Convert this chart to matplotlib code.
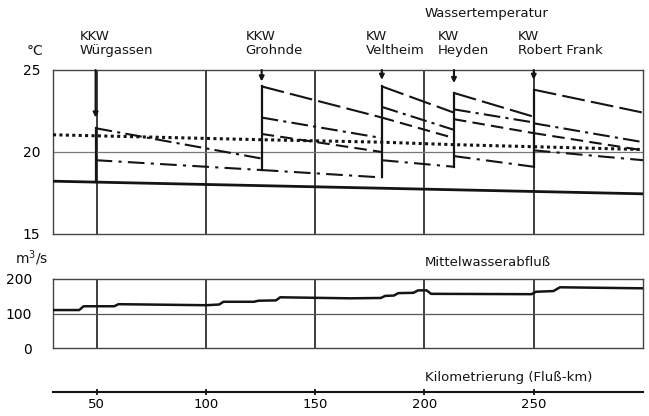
import matplotlib
matplotlib.use('Agg')
import matplotlib.pyplot as plt

W, H = 649, 416

# river km of the power plants (Weser)
plant_km = [49.5, 125.5, 180.5, 213.5, 250.0]
plant_names = ['KKW\nWürgassen', 'KKW\nGrohnde', 'KW\nVeltheim', 'KW\nHeyden', 'KW\nRobert Frank']
arrow_tip = [22.1, 24.3, 24.4, 24.2, 24.4]
km_end = 300.0

# heated water temperature downstream of each plant (start / end of each reach)
line_a_start = [None, 24.0, 24.0, 23.6, 23.8]
line_a_end = [None, 22.1, 22.4, 22.15, 22.4]
line_b_start = [21.45, 22.1, 22.75, 22.6, 21.75]
line_b_end = [19.6, 20.85, 21.35, 21.8, 20.6]
line_c_start = [None, 21.1, 22.1, 22.0, 21.15]
line_c_end = [None, 20.0, 20.85, 21.15, 20.1]
line_d_start = [19.5, 18.9, 19.5, 19.75, 20.1]
line_d_end = [18.9, 18.45, 19.1, 19.1, 19.5]

# natural temperature and limit curve
base_km = [30, 300]
base_temp = [18.22, 17.45]
limit_km = [30, 125, 180, 213, 300]
limit_temp = [21.05, 20.75, 20.6, 20.45, 20.15]

# mean discharge (Mittelwasserabfluss)
q_km = [30, 42, 44, 58, 60, 100, 106, 108, 122, 124, 132, 134, 166, 180, 182,
        186, 188, 195, 197, 201, 203, 249, 251, 259, 262, 300]
q_val = [110, 110, 121, 121, 127, 124, 126, 134, 134, 137, 138, 147, 144, 145, 151,
         152, 159, 160, 167, 167, 157, 156, 163, 165, 176, 173]

km_ticks = [50, 100, 150, 200, 250]

plt.rcParams['font.family'] = 'DejaVu Sans'
fig = plt.figure(figsize=(W / 100, H / 100), dpi=100)


def frac(x0, y0, x1, y1):
    return [x0 / W, 1 - y1 / H, (x1 - x0) / W, (y1 - y0) / H]


ink = '#141414'
grid_c = '#1e1e1e'

ax = fig.add_axes(frac(53, 70, 643, 234))
ax.set_xlim(30, km_end)
ax.set_ylim(15, 25)
ax.set_yticks([15, 20, 25])
ax.set_xticks([])
ax.tick_params(axis='y', length=0, pad=9, labelsize=10)
for s in ax.spines.values():
    s.set_color('#444444')
    s.set_linewidth(1.0)
for k in km_ticks:
    ax.axvline(k, color=grid_c, lw=1.2, zorder=1)
ax.axhline(20, color='#777777', lw=0.9, zorder=1)

ax.plot(base_km, base_temp, color=ink, lw=2.0, zorder=3)
ax.plot(limit_km, limit_temp, color=ink, lw=2.2, linestyle=(0, (1.0, 1.1)), zorder=3)

styles = [
    (line_a_start, line_a_end, (0, (11, 3))),
    (line_b_start, line_b_end, (0, (8, 2.5, 1.5, 2.5))),
    (line_c_start, line_c_end, (0, (6, 3))),
    (line_d_start, line_d_end, (0, (8, 3, 1.5, 3))),
]
reach_end = plant_km[1:] + [km_end]
for starts, ends, ls in styles:
    for i in range(len(plant_km)):
        if starts[i] is None:
            continue
        ax.plot([plant_km[i], reach_end[i]], [starts[i], ends[i]],
                color=ink, lw=1.5, linestyle=ls, zorder=3)

# vertical jump lines at the plants
for i, k in enumerate(plant_km):
    vals = [v for v in (line_a_start[i], line_b_start[i], line_c_start[i], line_d_start[i])
            if v is not None]
    if i == 0:
        low = base_temp[0] + (base_temp[1] - base_temp[0]) * (k - base_km[0]) / (base_km[1] - base_km[0])
    else:
        low = min([line_d_end[i - 1]] + vals)
    ax.plot([k, k], [low, max(vals)], color=ink, lw=1.6, zorder=4)
    ax.annotate('', xy=(k, arrow_tip[i]), xytext=(k, 25.0),
                arrowprops=dict(arrowstyle='-|>', color=ink, lw=1.5, mutation_scale=7,
                                shrinkA=0, shrinkB=0), zorder=4)
    fig.text((k - 30) * 2.185 / W + 53 / W - 16 / W, 1 - 57 / H, plant_names[i],
             fontsize=9.5, ha='left', va='bottom', linespacing=1.05, color=ink)

ax2 = fig.add_axes(frac(53, 279, 643, 348))
ax2.set_xlim(30, km_end)
ax2.set_ylim(0, 200)
ax2.set_yticks([0, 100, 200])
ax2.set_xticks([])
ax2.tick_params(axis='y', length=0, pad=15, labelsize=10)
for s in ax2.spines.values():
    s.set_color('#444444')
    s.set_linewidth(1.0)
for k in km_ticks:
    ax2.axvline(k, color=grid_c, lw=1.2, zorder=1)
ax2.axhline(100, color='#555555', lw=0.9, zorder=1)
ax2.plot(q_km, q_val, color=ink, lw=1.8, zorder=3)

# km scale
ax3 = fig.add_axes(frac(53, 391, 643, 392))
ax3.set_xlim(30, km_end)
ax3.set_yticks([])
ax3.set_xticks(km_ticks)
for side in ('top', 'left', 'right'):
    ax3.spines[side].set_visible(False)
ax3.spines['bottom'].set_linewidth(1.5)
ax3.spines['bottom'].set_color(ink)
ax3.tick_params(axis='x', direction='inout', length=5, width=1.2, pad=2, labelsize=9.5)
ax3.patch.set_visible(False)

fig.text(27 / W, 1 - 51 / H, '°C', fontsize=10, ha='left', va='center', color=ink)
fig.text(15 / W, 1 - 258 / H, 'm$^3$/s', fontsize=10, ha='left', va='center', color=ink)
fig.text(425 / W, 1 - 14 / H, 'Wassertemperatur', fontsize=9.5, ha='left', va='center', color=ink)
fig.text(425 / W, 1 - 262 / H, 'Mittelwasserabfluß', fontsize=9.5, ha='left', va='center', color=ink)
fig.text(425 / W, 1 - 378 / H, 'Kilometrierung (Fluß-km)', fontsize=9.5, ha='left', va='center', color=ink)

fig.savefig('out.png', dpi=100)
